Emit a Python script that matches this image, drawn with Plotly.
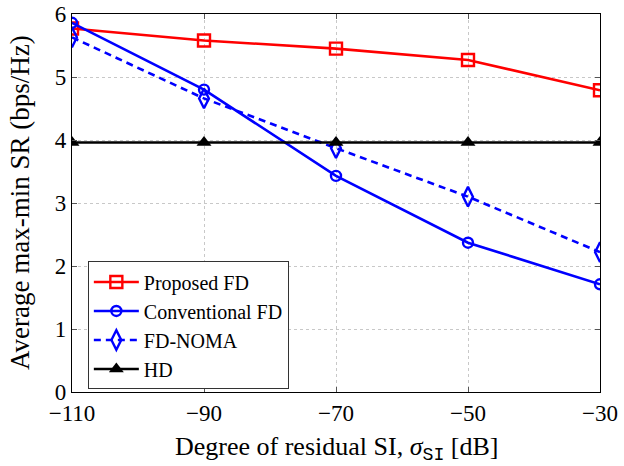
import plotly.graph_objects as go

x_vals = [-110, -90, -70, -50, -30]
proposed_fd = [5.77, 5.58, 5.45, 5.27, 4.79]
conventional_fd = [5.86, 4.80, 3.43, 2.37, 1.71]
fd_noma = [5.63, 4.66, 3.87, 3.10, 2.22]
hd = [3.96, 3.96, 3.96, 3.96, 3.96]

x_ticks = [-110, -90, -70, -50, -30]
y_ticks = [0, 1, 2, 3, 4, 5, 6]

FONT = "Liberation Serif"

fig = go.Figure()
fig.add_trace(go.Scatter(x=x_vals, y=proposed_fd, name="Proposed FD", mode="lines+markers",
                         line=dict(color="red", width=2.6),
                         marker=dict(symbol="square-open", size=12, color="red", line=dict(width=2.4))))
fig.add_trace(go.Scatter(x=x_vals, y=conventional_fd, name="Conventional FD", mode="lines+markers",
                         line=dict(color="blue", width=2.6),
                         marker=dict(symbol="circle-open", size=10, color="blue", line=dict(width=2.4))))
fig.add_trace(go.Scatter(x=x_vals, y=fd_noma, name="FD-NOMA", mode="lines+markers",
                         line=dict(color="blue", width=2.6, dash="7px,5px"),
                         marker=dict(symbol="diamond-tall-open", size=14, color="blue", line=dict(width=2.4))))
fig.add_trace(go.Scatter(x=x_vals, y=hd, name="HD", mode="lines+markers",
                         line=dict(color="black", width=2.6),
                         marker=dict(symbol="triangle-up", size=13, color="black")))

fig.update_layout(
    width=624, height=466,
    margin=dict(l=72, r=24, t=14, b=74, autoexpand=False),
    paper_bgcolor="white", plot_bgcolor="white",
    font=dict(family=FONT, size=23, color="black"),
    showlegend=True,
    legend=dict(x=0.03, y=0.176, xanchor="left", yanchor="middle",
                bgcolor="white", bordercolor="#333", borderwidth=1,
                font=dict(family=FONT, size=20), tracegroupgap=0,
                itemsizing="trace", itemwidth=45),
    xaxis=dict(range=[-110, -30], tickvals=x_ticks, ticktext=["\u2212" + str(-v) for v in x_ticks],
               showgrid=True, gridcolor="#c8c8c8", griddash="dot", gridwidth=1,
               showline=True, linecolor="black", linewidth=1.2, mirror="ticks",
               ticks="inside", ticklen=5, tickcolor="#555", zeroline=False, automargin=False),
    yaxis=dict(range=[0, 6], tickvals=y_ticks,
               showgrid=True, gridcolor="#c8c8c8", griddash="dot", gridwidth=1,
               showline=True, linecolor="black", linewidth=1.2, mirror="ticks",
               ticks="inside", ticklen=5, tickcolor="#555", zeroline=False, automargin=False),
    annotations=[
        dict(text="Degree of residual SI, <i>σ</i><sub><span style='font-family:Liberation Mono'>SI</span></sub> [dB]",
             xref="paper", yref="paper", x=0.5, y=0, yshift=-56, xanchor="center", yanchor="middle",
             showarrow=False, font=dict(family=FONT, size=26)),
        dict(text="Average max-min SR (bps/Hz)", textangle=-90,
             xref="paper", yref="paper", x=0, y=0.5, xshift=-52, xanchor="center", yanchor="middle",
             showarrow=False, font=dict(family=FONT, size=27)),
    ],
)

fig.write_html("out.html", config={"displayModeBar": False},
               post_script="document.body.style.margin='0';")
